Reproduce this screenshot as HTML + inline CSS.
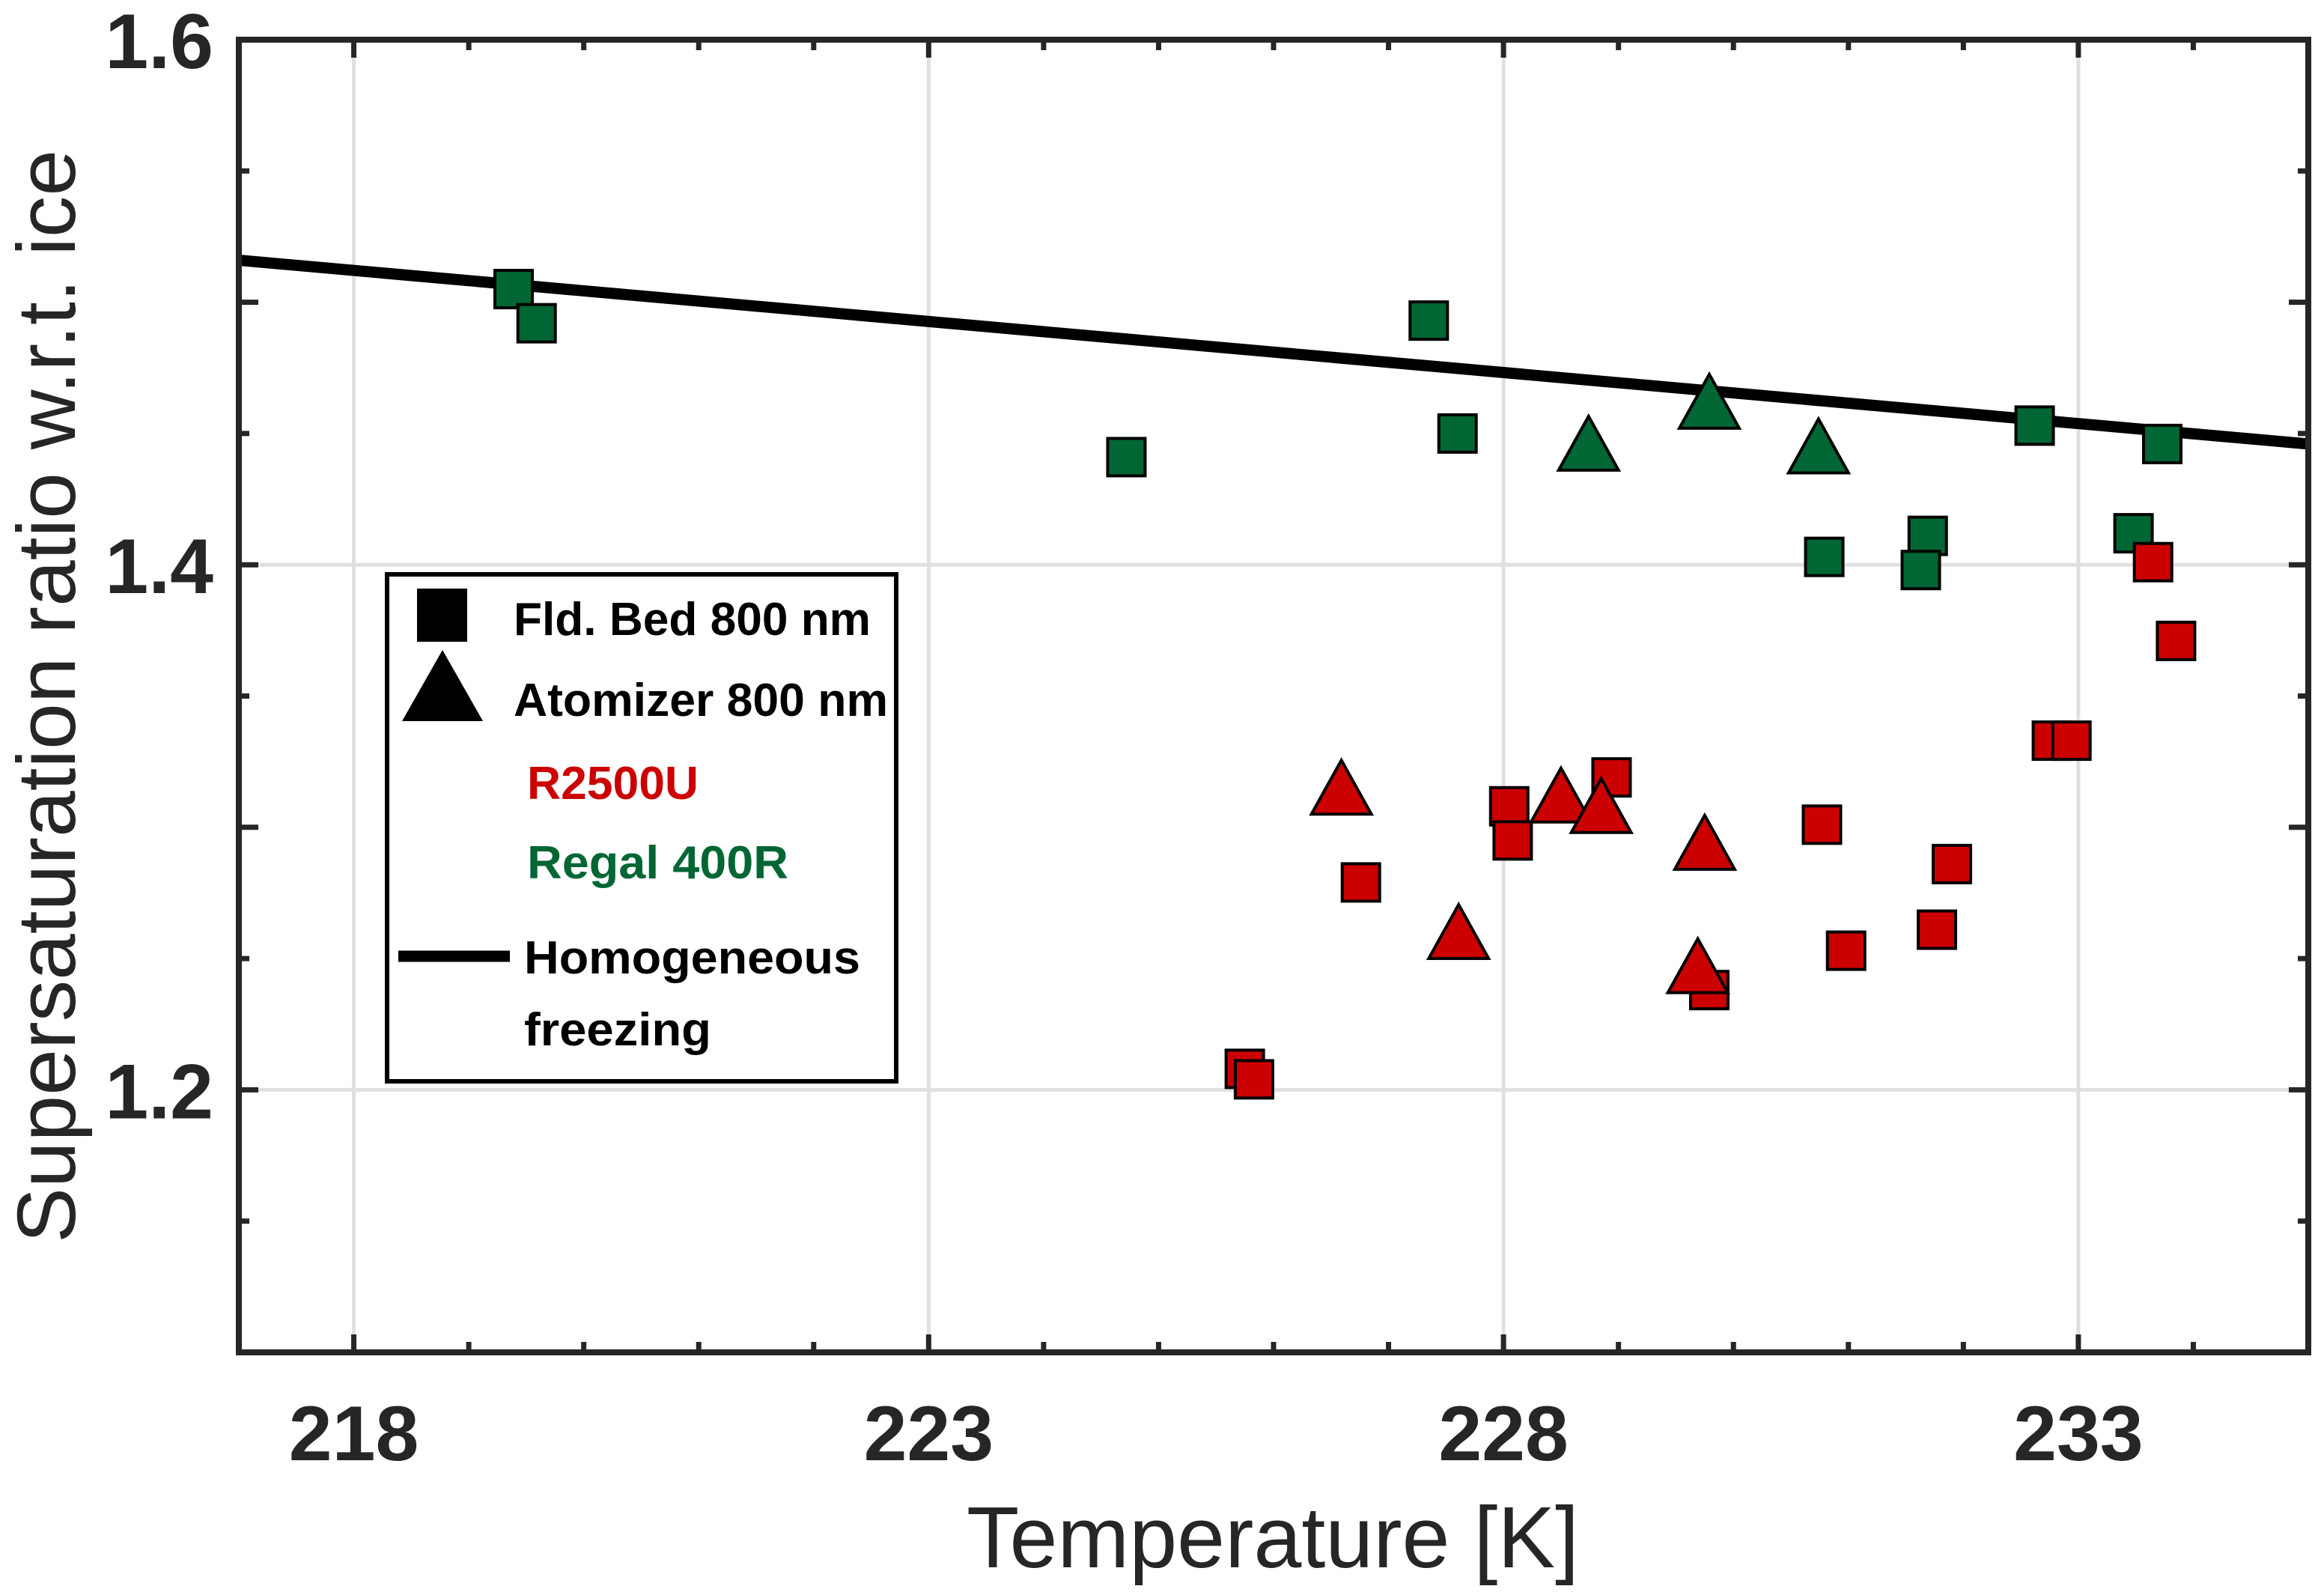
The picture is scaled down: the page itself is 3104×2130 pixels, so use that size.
<!DOCTYPE html>
<html><head><meta charset="utf-8"><style>
html,body{margin:0;padding:0;background:#fff;}
svg{display:block;}
</style></head><body>
<svg id="chart" width="3104" height="2130" viewBox="0 0 3104 2130" xmlns="http://www.w3.org/2000/svg">
<g id="grid"></g>
<g id="line"></g>
<g id="marks"></g>
<g id="axes"></g>
<text x="1700" y="2093" text-anchor="middle" font-family="Liberation Sans, sans-serif" font-size="116" fill="#262626" textLength="818" lengthAdjust="spacingAndGlyphs">Temperature [K]</text>
<text transform="translate(100,930) rotate(-90)" text-anchor="middle" font-family="Liberation Sans, sans-serif" font-size="110" fill="#262626" textLength="1460" lengthAdjust="spacingAndGlyphs">Supersaturation ratio w.r.t. ice</text>
<g>
<rect x="517" y="767" width="680" height="677" fill="#fff" stroke="#000" stroke-width="6"/>
<rect x="557" y="786" width="67" height="71" fill="#000"/>
<polygon points="591,868 645,963 537,963" fill="#000"/>
<text x="686" y="848" font-family="Liberation Sans, sans-serif" font-weight="bold" font-size="62" fill="#000" textLength="477" lengthAdjust="spacingAndGlyphs">Fld. Bed 800 nm</text>
<text x="686" y="956" font-family="Liberation Sans, sans-serif" font-weight="bold" font-size="62" fill="#000" textLength="500" lengthAdjust="spacingAndGlyphs">Atomizer 800 nm</text>
<text x="704" y="1067" font-family="Liberation Sans, sans-serif" font-weight="bold" font-size="62" fill="#cc0000" textLength="229" lengthAdjust="spacingAndGlyphs">R2500U</text>
<text x="704" y="1173" font-family="Liberation Sans, sans-serif" font-weight="bold" font-size="62" fill="#006633" textLength="349" lengthAdjust="spacingAndGlyphs">Regal 400R</text>
<line x1="532" y1="1277" x2="681" y2="1277" stroke="#000" stroke-width="15"/>
<text x="700" y="1300" font-family="Liberation Sans, sans-serif" font-weight="bold" font-size="62" fill="#000" textLength="449" lengthAdjust="spacingAndGlyphs">Homogeneous</text>
<text x="700" y="1396" font-family="Liberation Sans, sans-serif" font-weight="bold" font-size="62" fill="#000" textLength="250" lengthAdjust="spacingAndGlyphs">freezing</text>
</g>
</svg>
<script>
const xTicks = [218, 223, 228, 233];
const yTicks = [1.2, 1.4, 1.6];
const yTickLabels = ["1.2", "1.4", "1.6"];
const lineT = [217, 235];
const lineS = [1.516, 1.446];
const greenSqT = [219.39, 219.59, 224.72, 227.35, 227.6, 232.62, 233.73, 231.69, 231.63, 230.79, 233.48];
const greenSqS = [1.505, 1.492, 1.441, 1.493, 1.450, 1.453, 1.446, 1.411, 1.398, 1.403, 1.412];
const greenTriT = [228.74, 229.79, 230.74];
const greenTriS = [1.444, 1.460, 1.443];
const redSqT = [225.75, 225.83, 226.76, 228.05, 228.08, 228.94, 229.79, 230.77, 230.98, 231.77, 231.90, 232.77, 232.94, 233.65, 233.85];
const redSqS = [1.208, 1.204, 1.279, 1.308, 1.295, 1.319, 1.238, 1.301, 1.253, 1.261, 1.286, 1.333, 1.333, 1.401, 1.371];
const redTriT = [226.59, 227.61, 228.5, 228.85, 229.75, 229.69];
const redTriS = [1.313, 1.258, 1.310, 1.306, 1.292, 1.245];

const NS = "http://www.w3.org/2000/svg";
const L = 319, R = 3083, T = 53, B = 1806;
const X0 = 217, X1 = 235, Y0 = 1.1, Y1 = 1.6;
const xs = v => L + (v - X0) / (X1 - X0) * (R - L);
const ys = v => B - (v - Y0) / (Y1 - Y0) * (B - T);
function mk(tag, attrs, parent) {
  const e = document.createElementNS(NS, tag);
  for (const k in attrs) e.setAttribute(k, attrs[k]);
  parent.appendChild(e);
  return e;
}
const grid = document.getElementById('grid');
const axes = document.getElementById('axes');
const marks = document.getElementById('marks');
const lineG = document.getElementById('line');

xTicks.forEach(t => {
  const g = mk('line', {x1: xs(t), x2: xs(t), y1: T, y2: B, stroke: '#e0e0e0', 'stroke-width': 5}, grid);
  
  
});
yTicks.forEach(t => {
  const g = mk('line', {x1: L, x2: R, y1: ys(t), y2: ys(t), stroke: '#e0e0e0', 'stroke-width': 5}, grid);
  
  
});

const hl = mk('line', {x1: xs(lineT[0]), y1: ys(lineS[0]), x2: xs(lineT[1]), y2: ys(lineS[1]), stroke: '#000', 'stroke-width': 15}, lineG);



function square(t, s, fill, name) {
  const r = mk('rect', {x: xs(t) - 25, y: ys(s) - 25, width: 50, height: 50, fill: fill, stroke: '#000', 'stroke-width': 4}, marks);
  
  
}
function tri(t, s, fill, name) {
  const cx = xs(t), cy = ys(s);
  const p = mk('polygon', {points: `${cx},${cy-44} ${cx+40},${cy+28} ${cx-40},${cy+28}`, fill: fill, stroke: '#000', 'stroke-width': 4}, marks);
  
  
}
greenSqT.forEach((t, i) => square(t, greenSqS[i], '#006633', 'regal-fldbed-point'));
greenTriT.forEach((t, i) => tri(t, greenTriS[i], '#006633', 'regal-atomizer-point'));
redSqT.forEach((t, i) => square(t, redSqS[i], '#cc0000', 'r2500u-fldbed-point'));
redTriT.forEach((t, i) => tri(t, redTriS[i], '#cc0000', 'r2500u-atomizer-point'));

for (let t = 217; t <= 235; t++) {
  const major = xTicks.includes(t);
  const len = major ? 24 : 14;
  const a = mk('line', {x1: xs(t), x2: xs(t), y1: B, y2: B - len, stroke: '#262626', 'stroke-width': 7}, axes);
  
  
  const b = mk('line', {x1: xs(t), x2: xs(t), y1: T, y2: T + len, stroke: '#262626', 'stroke-width': 7}, axes);
  
  
}
for (let k = 0; k <= 10; k++) {
  const v = 1.1 + k * 0.05;
  const major = k % 2 === 0;
  const len = major ? 26 : 14;
  const a = mk('line', {x1: L, x2: L + len, y1: ys(v), y2: ys(v), stroke: '#262626', 'stroke-width': 7}, axes);
  
  
  const b = mk('line', {x1: R, x2: R - len, y1: ys(v), y2: ys(v), stroke: '#262626', 'stroke-width': 7}, axes);
  
  
}
const box = mk('rect', {x: L, y: T, width: R - L, height: B - T, fill: 'none', stroke: '#262626', 'stroke-width': 8}, axes);



xTicks.forEach(t => {
  const tx = mk('text', {x: xs(t), y: 1950, 'text-anchor': 'middle', 'font-family': 'Liberation Sans, sans-serif', 'font-weight': 'bold', 'font-size': 104, fill: '#262626'}, axes);
  tx.textContent = String(t);
  
  
});
yTicks.forEach((t, i) => {
  const tx = mk('text', {x: 285, y: ys(t) + 38, 'text-anchor': 'end', 'font-family': 'Liberation Sans, sans-serif', 'font-weight': 'bold', 'font-size': 104, fill: '#262626'}, axes);
  tx.textContent = yTickLabels[i];
  
  
});
</script>
</body></html>
